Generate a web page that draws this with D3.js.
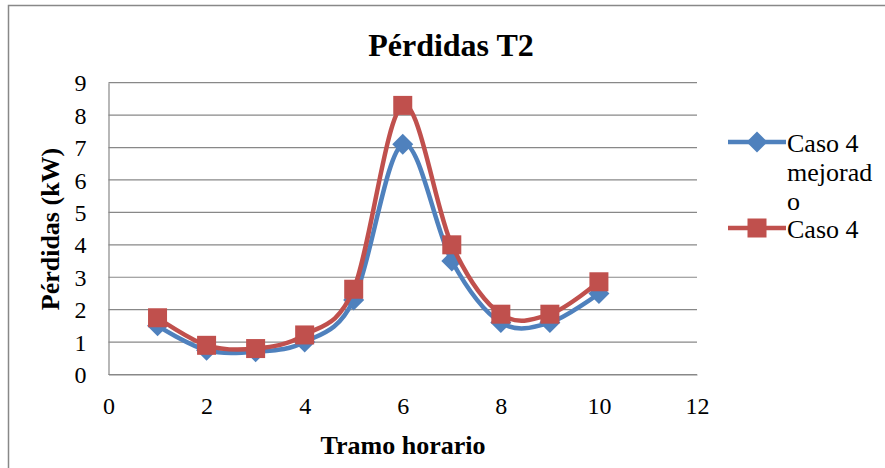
<!DOCTYPE html>
<html>
<head>
<meta charset="utf-8">
<script src="https://cdn.jsdelivr.net/npm/d3@7"></script>
</head>
<body style="margin:0;background:#fff">
<svg id="chart" width="885" height="468" style="display:block"></svg>
<script>
// Losses per time slot for transformer T2
const tramos = [1, 2, 3, 4, 5, 6, 7, 8, 9, 10];
const casoMejorado = [1.5, 0.75, 0.7, 1.0, 2.3, 7.1, 3.5, 1.6, 1.6, 2.5];
const caso4 = [1.75, 0.9, 0.8, 1.22, 2.63, 8.3, 4.0, 1.86, 1.86, 2.86];
const xTicks = [0, 2, 4, 6, 8, 10, 12];
const yTicks = [0, 1, 2, 3, 4, 5, 6, 7, 8, 9];

const SERIF = '"Liberation Serif"';

const svg = d3.select("#chart");
const W = 885, H = 468;

// outer chart frame
svg.append("rect")
  .attr("x", 8.5).attr("y", 5.5)
  .attr("width", W + 10).attr("height", H + 10)
  .attr("fill", "#fff").attr("stroke", "#888").attr("stroke-width", 1.5);

const plot = { left: 108.5, right: 697, top: 82.7, bottom: 374.5 };

const x = d3.scaleLinear().domain([0, 12]).range([plot.left, plot.right]);
const y = d3.scaleLinear().domain([0, 9]).range([plot.bottom, plot.top]);

// horizontal gridlines
svg.append("g")
  .selectAll("line")
  .data(yTicks)
  .join("line")
  .attr("x1", plot.left).attr("x2", plot.right)
  .attr("y1", d => y(d)).attr("y2", d => y(d))
  .attr("stroke", "#888").attr("stroke-width", 1.2);

// y axis
const yAxis = svg.append("g")
  .attr("transform", `translate(${plot.left},0)`)
  .call(d3.axisLeft(y).tickValues(yTicks).tickSize(0).tickPadding(22).tickFormat(d3.format("d")));
yAxis.select(".domain").attr("stroke", "#888").attr("stroke-width", 1.2);
yAxis.selectAll("text")
  .style("font-family", SERIF).style("font-size", "24px")
  .attr("fill", "#000").attr("dy", "0.34em");

// x axis
const xAxis = svg.append("g")
  .attr("transform", `translate(0,${plot.bottom})`)
  .call(d3.axisBottom(x).tickValues(xTicks).tickSize(0).tickPadding(22.5).tickFormat(d3.format("d")));
xAxis.select(".domain").attr("stroke", "#888").attr("stroke-width", 1.2);
xAxis.selectAll("text")
  .style("font-family", SERIF).style("font-size", "24px")
  .attr("fill", "#000");

// titles
svg.append("text")
  .attr("x", 451).attr("y", 56)
  .attr("text-anchor", "middle")
  .style("font-family", SERIF)
  .style("font-size", "32px").style("font-weight", "bold")
  .text("Pérdidas T2");

svg.append("text")
  .attr("x", 403).attr("y", 454)
  .attr("text-anchor", "middle")
  .style("font-family", SERIF)
  .style("font-size", "26px").style("font-weight", "bold")
  .text("Tramo horario");

svg.append("text")
  .attr("transform", "translate(59,229) rotate(-90)")
  .attr("text-anchor", "middle")
  .style("font-family", SERIF)
  .style("font-size", "26px").style("font-weight", "bold")
  .text("Pérdidas (kW)");

// series
const series = [
  { name: "Caso 4 mejorado", values: casoMejorado, color: "#4F81BD", marker: "diamond" },
  { name: "Caso 4", values: caso4, color: "#C0504D", marker: "square" }
];

const line = d3.line()
  .x((d, i) => x(tramos[i]))
  .y(d => y(d))
  .curve(d3.curveCardinal.tension(0));

function drawMarker(g, type, cx, cy, color) {
  if (type === "square") {
    g.append("rect")
      .attr("x", cx - 9.5).attr("y", cy - 9.5)
      .attr("width", 19).attr("height", 19)
      .attr("fill", color);
  } else {
    const s = 10.5;
    g.append("path")
      .attr("d", `M${cx},${cy - s}L${cx + s},${cy}L${cx},${cy + s}L${cx - s},${cy}Z`)
      .attr("fill", color);
  }
}

series.forEach(s => {
  const g = svg.append("g");
  g.append("path")
    .datum(s.values)
    .attr("d", line)
    .attr("fill", "none")
    .attr("stroke", s.color)
    .attr("stroke-width", 4.5);
  s.values.forEach((v, i) => drawMarker(g, s.marker, x(tramos[i]), y(v), s.color));
});

// legend
const legend = svg.append("g");
const legendRows = [
  { s: series[0], ly: 142, lines: ["Caso 4", "mejorad", "o"] },
  { s: series[1], ly: 228, lines: ["Caso 4"] }
];
legendRows.forEach(r => {
  legend.append("line")
    .attr("x1", 728).attr("x2", 786)
    .attr("y1", r.ly).attr("y2", r.ly)
    .attr("stroke", r.s.color).attr("stroke-width", 4.5);
  drawMarker(legend, r.s.marker, 757, r.ly, r.s.color);
  const t = legend.append("text")
    .attr("x", 787).attr("y", r.ly + 9.5)
    .style("font-family", SERIF)
    .style("font-size", "26px");
  r.lines.forEach((l, i) => {
    t.append("tspan").attr("x", 787).attr("dy", i === 0 ? 0 : 29).text(l);
  });
});
</script>
</body>
</html>
